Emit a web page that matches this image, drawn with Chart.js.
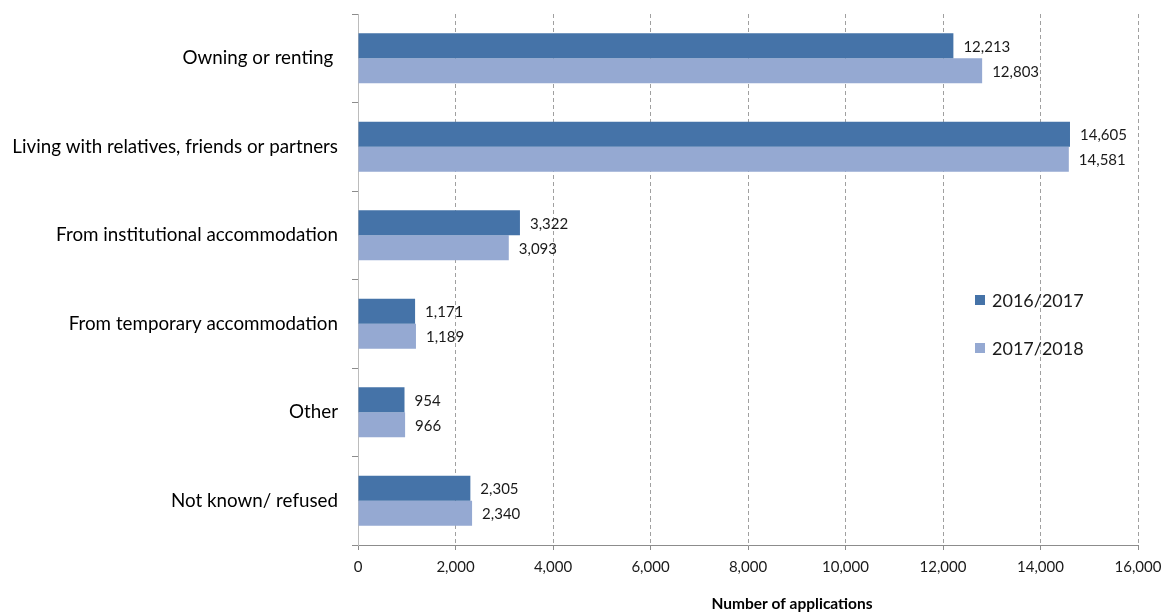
<!DOCTYPE html>
<html>
<head>
<meta charset="utf-8">
<script src="https://cdn.jsdelivr.net/npm/chart.js@4.4.1/dist/chart.umd.min.js"></script>
<style>
  html, body { margin: 0; padding: 0; background: #ffffff; }
  #wrap { width: 1164px; height: 613px; position: relative; }
</style>
</head>
<body>
<div id="wrap"><canvas id="chart"></canvas></div>
<script>
const categories = [
    "Owning or renting ",
    "Living with relatives, friends or partners",
    "From institutional accommodation",
    "From temporary accommodation",
    "Other",
    "Not known/ refused"
];
const seriesNames = ["2016/2017", "2017/2018"];
const values2016 = [12213, 14605, 3322, 1171, 954, 2305];
const values2017 = [12803, 14581, 3093, 1189, 966, 2340];
const xTicks = [0, 2000, 4000, 6000, 8000, 10000, 12000, 14000, 16000];
const axisTitle = "Number of applications";

const DARK = "#4573a8";
const LIGHT = "#95a9d2";
const FONT = "Lato, 'Liberation Sans', sans-serif";

const fmt = v => v.toLocaleString("en-US");

// value labels to the right of each bar
const valueLabels = {
    id: "valueLabels",
    afterDatasetsDraw(chart) {
        const ctx = chart.ctx;
        ctx.save();
        ctx.font = "15px " + FONT;
        ctx.fillStyle = "#1a1a1a";
        ctx.textAlign = "left";
        ctx.textBaseline = "middle";
        chart.data.datasets.forEach((ds, i) => {
            chart.getDatasetMeta(i).data.forEach((bar, j) => {
                ctx.fillText(fmt(ds.data[j]), bar.x + 10, bar.y + 1);
            });
        });
        ctx.restore();
    }
};

// legend inside the plot, right side
const sideLegend = {
    id: "sideLegend",
    afterDraw(chart) {
        const ctx = chart.ctx;
        const x = chart.chartArea.right - 163;
        ctx.save();
        ctx.font = "18px " + FONT;
        ctx.textBaseline = "middle";
        chart.data.datasets.forEach((ds, i) => {
            const y = 300 + i * 48;
            ctx.fillStyle = ds.backgroundColor;
            ctx.fillRect(x, y - 5, 10, 10);
            ctx.fillStyle = "#1a1a1a";
            ctx.fillText(ds.label, x + 17, y + 1);
        });
        ctx.restore();
    }
};

// axis title under the tick labels
const xTitle = {
    id: "xTitle",
    afterDraw(chart) {
        const ctx = chart.ctx;
        const area = chart.chartArea;
        ctx.save();
        ctx.font = "bold 15.5px " + FONT;
        ctx.fillStyle = "#000000";
        ctx.textAlign = "center";
        ctx.textBaseline = "middle";
        ctx.fillText(axisTitle, (area.left + area.right) / 2 + 44, 604);
        ctx.restore();
    }
};

new Chart(document.getElementById("chart"), {
    type: "bar",
    data: {
        labels: categories,
        datasets: [
            { label: seriesNames[0], data: values2016, backgroundColor: DARK },
            { label: seriesNames[1], data: values2017, backgroundColor: LIGHT }
        ]
    },
    options: {
        indexAxis: "y",
        responsive: true,
        maintainAspectRatio: false,
        animation: false,
        categoryPercentage: 0.565,
        barPercentage: 1,
        layout: { padding: { top: 14, right: 26, left: 0, bottom: 0 } },
        plugins: {
            legend: { display: false },
            tooltip: { enabled: false }
        },
        scales: {
            x: {
                min: 0,
                max: 16000,
                afterBuildTicks: scale => { scale.ticks = xTicks.map(v => ({ value: v })); },
                afterFit: scale => {
                    scale.height = 68;
                    scale.paddingLeft = 0;
                    scale.paddingRight = 0;
                },
                grid: {
                    color: "#a0a0a0",
                    tickLength: 5,
                    tickBorderDash: [],
                    tickColor: "#8c8c8c"
                },
                border: { color: "#8c8c8c", dash: [4, 3], width: 1 },
                ticks: {
                    color: "#1a1a1a",
                    padding: 8,
                    font: { family: FONT, size: 15 },
                    callback: v => fmt(v)
                }
            },
            y: {
                afterFit: scale => {
                    scale.width = 358;
                    scale.paddingTop = 0;
                    scale.paddingBottom = 0;
                },
                grid: {
                    drawOnChartArea: false,
                    tickLength: 6,
                    color: "#8c8c8c"
                },
                border: { color: "#bcbcbc", width: 1 },
                ticks: {
                    color: "#000000",
                    padding: 14,
                    font: { family: FONT, size: 18.8 }
                }
            }
        }
    },
    plugins: [valueLabels, sideLegend, xTitle]
});
</script>
</body>
</html>
